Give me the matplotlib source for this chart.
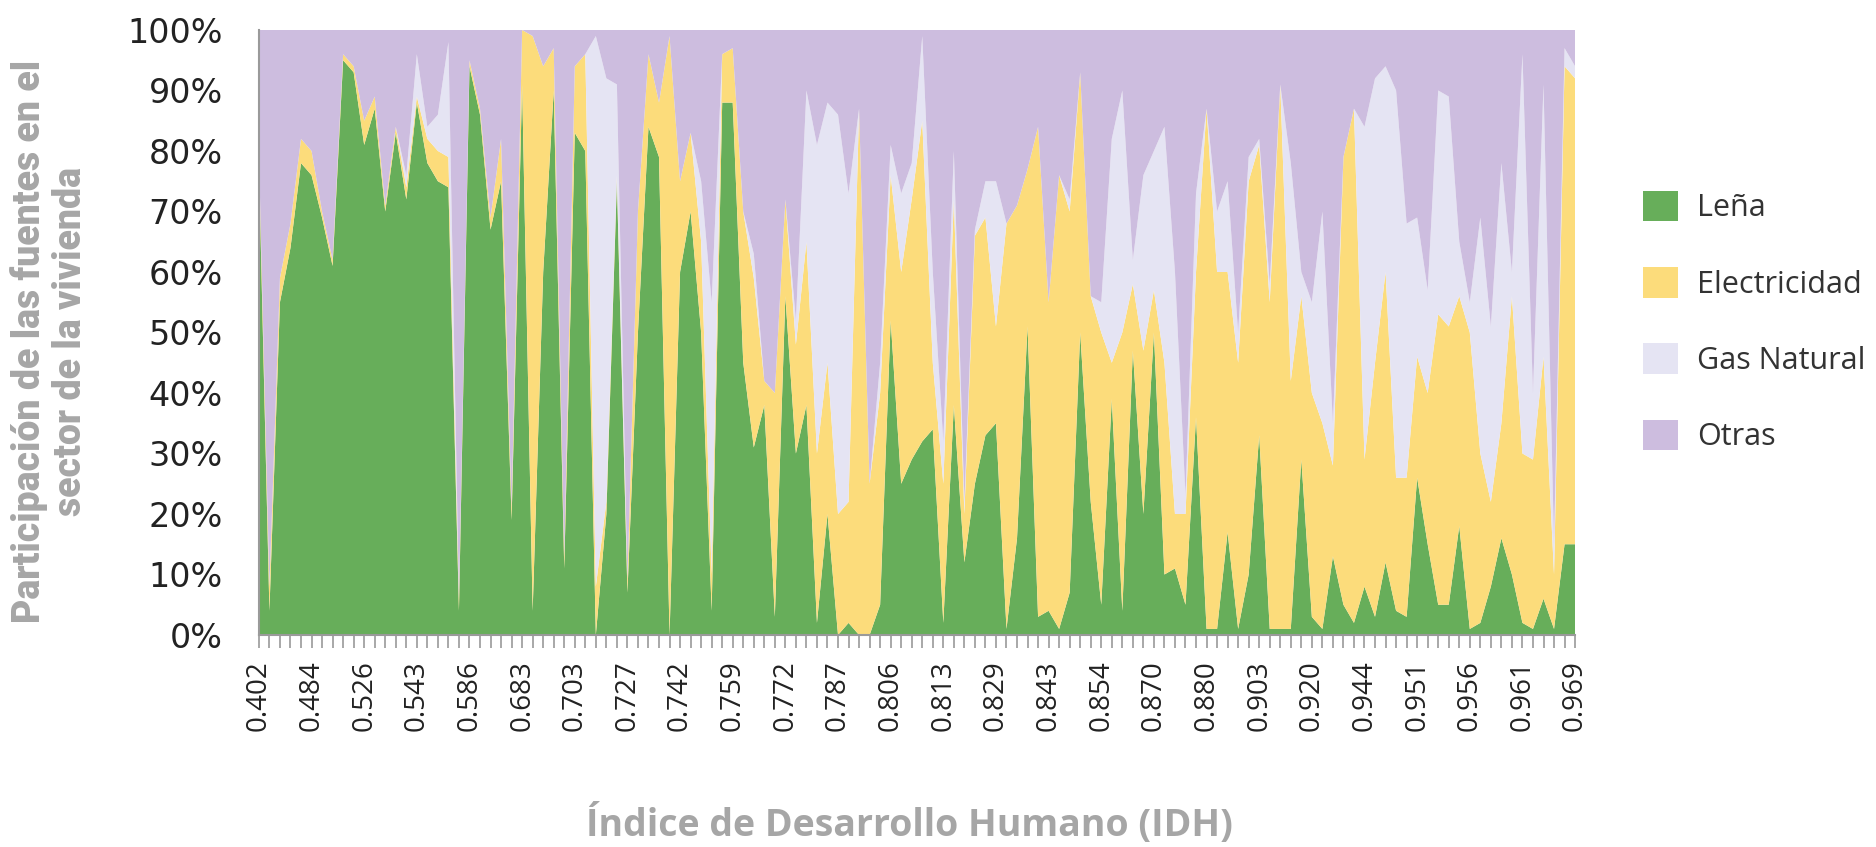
import matplotlib
matplotlib.use("Agg")
import matplotlib.pyplot as plt
from matplotlib.patches import Patch
import numpy as np

# Participación (%) por fuente, ordenado por IDH
lena = [78, 4, 55, 64, 78, 76, 69, 61, 95, 93, 81, 87, 70, 83, 72, 88, 78, 75, 74, 4,
        94, 86, 67, 75, 19, 91, 4, 60, 90, 11, 83, 80, 0, 20, 75, 7, 50, 84, 79, 0,
        60, 70, 50, 4, 88, 88, 45, 31, 38, 3, 56, 30, 38, 2, 20, 0, 2, 0, 0, 5,
        52, 25, 29, 32, 34, 2, 38, 12, 25, 33, 35, 1, 16, 51, 3, 4, 1, 7, 50, 22,
        5, 39, 4, 47, 20, 50, 10, 11, 5, 36, 1, 1, 17, 1, 10, 33, 1, 1, 1, 29,
        3, 1, 13, 5, 2, 8, 3, 12, 4, 3, 26, 15, 5, 5, 18, 1, 2, 8, 16, 10,
        2, 1, 6, 1, 15, 15]
electricidad = [2, 4, 4, 4, 4, 4, 1, 1, 1, 1, 4, 2, 1, 1, 2, 1, 4, 5, 5, 2,
                1, 1, 2, 7, 2, 9, 95, 34, 7, 2, 11, 16, 8, 2, 1, 2, 20, 12, 9, 99,
                15, 13, 15, 6, 8, 9, 25, 28, 4, 37, 16, 18, 27, 28, 25, 20, 20, 87, 25, 35,
                24, 35, 43, 53, 11, 23, 34, 8, 41, 36, 16, 67, 55, 26, 81, 51, 75, 63, 43, 34,
                45, 6, 46, 11, 27, 7, 35, 9, 15, 24, 86, 59, 43, 44, 65, 48, 54, 90, 41, 27,
                37, 34, 15, 74, 85, 21, 42, 48, 22, 23, 20, 25, 48, 46, 38, 49, 28, 14, 19, 46,
                28, 28, 40, 9, 79, 77]
gas_natural = [0, 0, 0, 0, 0, 0, 0, 0, 0, 0, 0, 0, 0, 0, 2, 7, 2, 6, 19, 0,
               0, 0, 0, 0, 0, 0, 0, 0, 0, 0, 0, 0, 91, 70, 15, 0, 0, 0, 0, 0,
               0, 0, 10, 45, 0, 0, 0, 4, 0, 0, 0, 4, 25, 51, 43, 66, 51, 0, 0, 5,
               5, 13, 6, 14, 15, 7, 8, 2, 1, 6, 24, 0, 0, 0, 0, 0, 0, 2, 0, 0,
               5, 37, 40, 4, 29, 23, 39, 40, 3, 13, 0, 10, 15, 5, 4, 1, 3, 0, 36, 4,
               15, 35, 7, 0, 0, 55, 47, 34, 64, 42, 23, 17, 37, 38, 9, 5, 39, 29, 43, 4,
               66, 11, 45, 5, 3, 2]
otras = [20, 92, 41, 32, 18, 20, 30, 38, 4, 6, 15, 11, 29, 16, 24, 4, 16, 14, 2, 94,
         5, 13, 31, 18, 79, 0, 1, 6, 3, 87, 6, 4, 1, 8, 9, 91, 30, 4, 12, 1,
         25, 17, 25, 45, 4, 3, 30, 37, 58, 60, 28, 48, 10, 19, 12, 14, 27, 13, 75, 55,
         19, 27, 22, 1, 40, 68, 20, 78, 33, 25, 25, 32, 29, 23, 16, 45, 24, 28, 7, 44,
         45, 18, 10, 38, 24, 20, 16, 40, 77, 27, 13, 30, 25, 50, 21, 18, 42, 9, 22, 40,
         45, 30, 65, 21, 13, 16, 8, 6, 10, 32, 31, 43, 10, 11, 35, 45, 31, 49, 22, 40,
         4, 60, 9, 85, 3, 6]

idh_labels = ["0.402", "0.484", "0.526", "0.543", "0.586", "0.683", "0.703", "0.727",
              "0.742", "0.759", "0.772", "0.787", "0.806", "0.813", "0.829", "0.843",
              "0.854", "0.870", "0.880", "0.903", "0.920", "0.944", "0.951", "0.956",
              "0.961", "0.969"]

series_names = ["Leña", "Electricidad", "Gas Natural", "Otras"]
colors = ["#67ae5a", "#fcdc7b", "#e5e4f3", "#cdbddf"]

grey = "#a6a6a6"
axis_grey = "#9a9a9a"
narrow = ["Liberation Sans Narrow", "Roboto", "DejaVu Sans"]

fig = plt.figure(figsize=(18.76, 8.47), dpi=100)
ax = fig.add_axes([0.138, 0.2503, 0.7016, 0.7143])

x = np.arange(len(lena))
ax.stackplot(x, lena, electricidad, gas_natural, otras, colors=colors, linewidth=0)

ax.set_xlim(0, len(lena) - 1)
ax.set_ylim(0, 100)

# eje x: una marca por punto, etiqueta cada 5
ax.set_xticks(x)
tick_text = [""] * len(x)
for k, lab in enumerate(idh_labels):
    tick_text[k * 5] = lab
ax.set_xticklabels(tick_text, rotation=90, fontsize=20, family="Open Sans", color="#222222")
ax.tick_params(axis="x", length=9, width=1.2, color=axis_grey, pad=9)

ax.set_yticks(np.arange(0, 101, 10))
ax.set_yticklabels([f"{v}%" for v in range(0, 101, 10)], fontsize=24,
                   family="DejaVu Sans", color="#222222")
ax.tick_params(axis="y", length=0, pad=26)
ax.set_yticks([0], minor=True)
ax.tick_params(axis="y", which="minor", length=11, width=1.5, color=axis_grey)

for s in ["top", "right"]:
    ax.spines[s].set_visible(False)
ax.spines["left"].set_color(axis_grey)
ax.spines["left"].set_linewidth(1.5)
ax.spines["bottom"].set_color(axis_grey)
ax.spines["bottom"].set_linewidth(1.5)

fig.text(0.0265, 0.597, "Participación de las fuentes en el\nsector de la vivienda",
         rotation=90, ha="center", va="center", fontsize=27, fontweight="heavy",
         family=narrow, color=grey, linespacing=1.15)
fig.text(0.485, 0.026, "Índice de Desarrollo Humano (IDH)", ha="center", va="center",
         fontsize=27, fontweight="bold", family="Open Sans", color=grey)

handles = [Patch(facecolor=c, edgecolor="none") for c in colors]
fig.legend(handles, series_names, loc="upper left", bbox_to_anchor=(0.861, 0.807),
           frameon=False, prop={"family": "Open Sans", "size": 22},
           handlelength=1.15, handleheight=1.15, labelspacing=1.43, handletextpad=0.62,
           labelcolor="#333333")

fig.savefig("out.png", dpi=100)
